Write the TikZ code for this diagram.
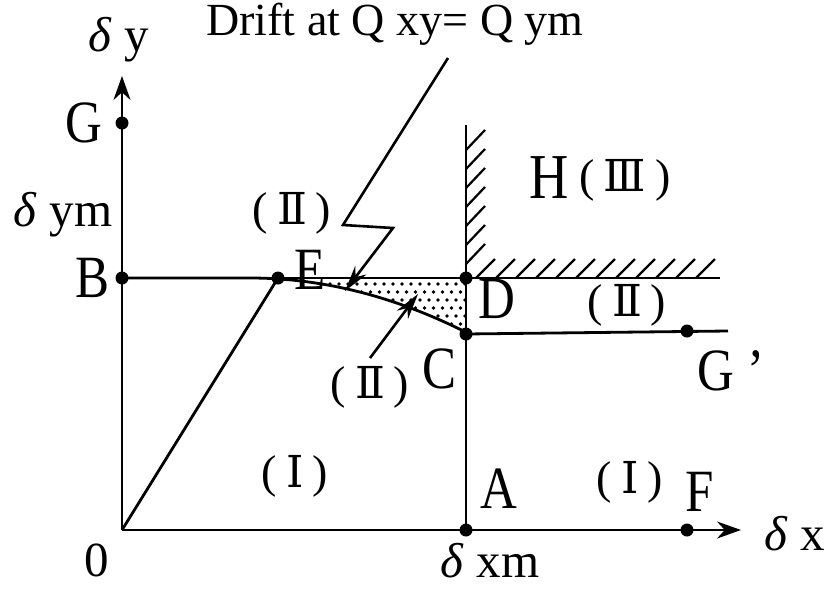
\documentclass[tikz,border=0pt]{standalone}
\usepackage{fontspec}
\setmainfont{Liberation Serif}
\newfontfamily\romfont{DejaVu Serif}
\newfontfamily\condfont[FakeStretch=0.85]{Liberation Serif}
\usetikzlibrary{arrows.meta}
\newcommand{\rnum}[1]{(\hspace{9pt}{\romfont\fontsize{44}{48}\selectfont #1}\hspace{9pt})}
\begin{document}
\begin{tikzpicture}[x=1pt,y=-1pt,
  line/.style={line width=2.8pt},
  dot/.style={circle,fill,inner sep=0pt,minimum size=13pt},
  big/.style={font=\condfont\fontsize{60}{64}\selectfont,inner sep=0pt},
  roman/.style={font=\fontsize{46}{50}\selectfont,inner sep=0pt},
  axlabel/.style={font=\fontsize{49}{52}\selectfont,inner sep=0pt},
  hatch/.style={line width=2.2pt},
  ax/.style={line width=2.8pt,-{Stealth[length=24pt,width=17pt]}},
  pointer/.style={line width=2.6pt,-{Stealth[length=26pt,width=14pt]}},
]
\useasboundingbox (0,0) rectangle (831,590);
% coordinates
\coordinate (O) at (122,530);
\coordinate (xend) at (741,530);
\coordinate (yend) at (122,76);
\coordinate (vtop) at (466,125);
\coordinate (hend) at (720,278);
\coordinate (gend) at (728,331);
% dotted region
\begin{scope}
\clip (328,278) -- (466,278) -- (466,333)
  -- plot[domain=466:328,samples=40] (\x,{278+(0.0341*(\x-250))^2}) -- cycle;
\foreach \j in {0,...,6} {
  \foreach \i in {0,...,16} {
    \fill ({330+\i*9+mod(\j,2)*4.5},{284+\j*8}) circle (1.8pt);
  }
}
\end{scope}
% axes
\draw[ax] (O) -- (xend);
\draw[ax] (O) -- (yend);
% dots
\node[dot] (G) at (122,123) {};
\node[dot] (B) at (122,278) {};
\node[dot] (Ed) at (278,278) {};
\node[dot] (D) at (466,278) {};
\node[dot] (C) at (466,334) {};
\node[dot] (Gp) at (687,331) {};
\node[dot] (A) at (466,530) {};
\node[dot] (F) at (687,530) {};
% lines
\draw[line] (B.center) -- (D.center) -- (hend);
\draw[line] (A.center) -- (vtop);
\draw[line] (C.center) -- (gend);
\draw[line] (O) -- (Ed.center);
\draw[line] (B.center) -- (250,278) -- plot[domain=250:466,samples=50] (\x,{278+(0.0341*(\x-250))^2});
% hatching
\foreach \y in {150,169,188,207,226,245,264} \draw[hatch] (466,\y) -- ++(19,-20);
\foreach \x in {476,496,516,536,556,576,596,616,636,656,676,696} \draw[hatch] (\x,278) -- ++(19,-19);
% pointer arrows
\coordinate (l1) at (448,58);
\coordinate (l2) at (343,225);
\coordinate (l3) at (393,228);
\coordinate (l4) at (345,291);
\draw[pointer] (l1) -- (l2) -- (l3) -- (l4);
\coordinate (p1) at (370,358);
\coordinate (p2) at (418,294);
\draw[pointer] (p1) -- (p2);
% labels
\node[font=\fontsize{46}{50}\selectfont,inner sep=0pt] (title) at (395,24) {Drift at Q xy= Q ym};
\node[axlabel] (ly) at (119,40) {\textit{δ} y};
\node[big] (lG) at (84,123) {G};
\node[axlabel] (lym) at (63,215) {\textit{δ} ym};
\node[big] (lB) at (93,278) {B};
\node[big] (lE) at (310,270) {E};
\node[roman] (r1) at (292,213) {\rnum{Ⅱ}};
\node[big,font=\condfont\fontsize{64}{68}\selectfont] (lH) at (549,178) {H};
\node[roman] (r3) at (625,180) {\rnum{Ⅲ}};
\node[big] (lD) at (497,299) {D};
\node[roman] (r2) at (627,305) {\rnum{Ⅱ}};
\node[big] (lC) at (440,369) {C};
\node[big] (lGp) at (731,371) {G\hspace{14pt}’};
\node[roman] (r4) at (370,387) {\rnum{Ⅱ}};
\node[roman] (r5) at (295,476) {\rnum{Ⅰ}};
\node[big] (lA) at (499,489) {A};
\node[roman] (r6) at (630,482) {\rnum{Ⅰ}};
\node[big] (lF) at (700,492) {F};
\node[axlabel] (l0) at (97,560) {0};
\node[axlabel] (lxm) at (490,561) {\textit{δ} xm};
\node[axlabel] (lx) at (795,534) {\textit{δ} x};
\end{tikzpicture}
\end{document}
